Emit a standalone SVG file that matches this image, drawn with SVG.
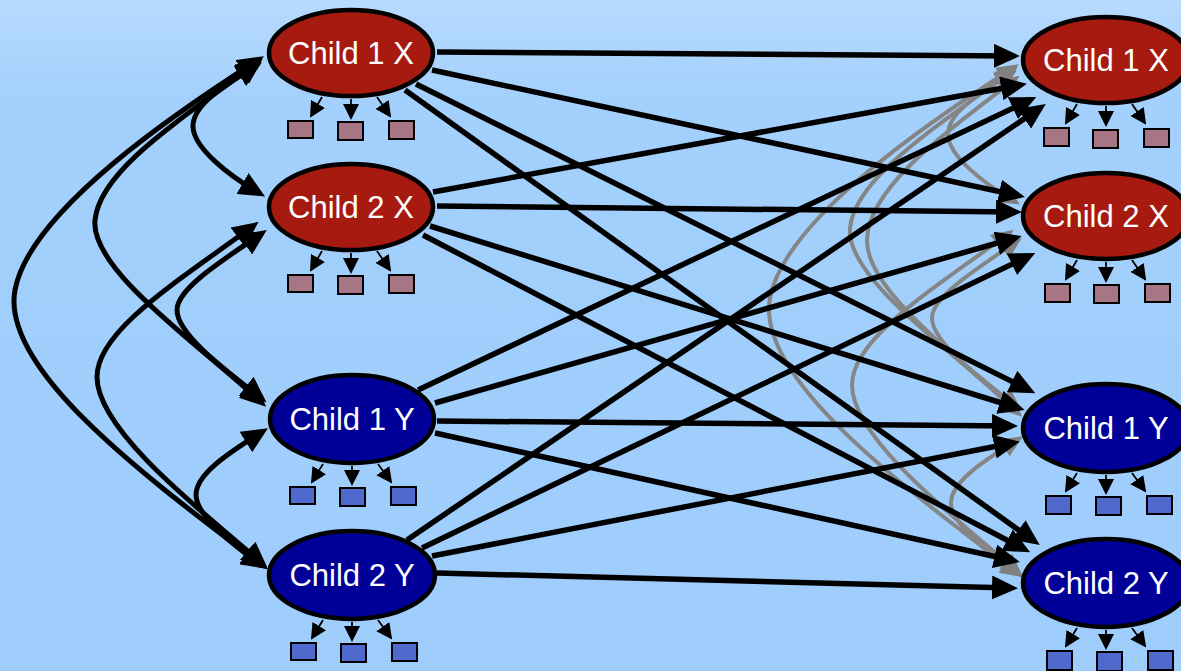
<svg xmlns="http://www.w3.org/2000/svg" width="1181" height="671" viewBox="0 0 1181 671">
<defs>
<linearGradient id="bg" x1="0" y1="0" x2="0" y2="1">
<stop offset="0" stop-color="#b7dafe"/>
<stop offset="0.15" stop-color="#a3d0fc"/>
<stop offset="1" stop-color="#9ecdfc"/>
</linearGradient>
<marker id="ah" markerUnits="userSpaceOnUse" markerWidth="26" markerHeight="24" refX="19" refY="12" orient="auto-start-reverse">
<path d="M0,0 L26,12 L0,24 z" fill="#000"/>
</marker>
<marker id="ag" markerUnits="userSpaceOnUse" markerWidth="22" markerHeight="20" refX="15" refY="10" orient="auto-start-reverse">
<path d="M0,0 L22,10 L0,20 z" fill="#808080"/>
</marker>
<marker id="sm" markerUnits="userSpaceOnUse" markerWidth="16" markerHeight="16" refX="14" refY="8" orient="auto">
<path d="M0,0 L16,8 L0,16 z" fill="#000"/>
</marker>
<style>
.edge{fill:none;stroke:#000;stroke-width:5.5;marker-end:url(#ah)}
.intra{fill:none;stroke:#000;stroke-width:5;marker-start:url(#ah);marker-end:url(#ah)}
.grey{fill:none;stroke:#858585;stroke-width:4;marker-start:url(#ag);marker-end:url(#ag)}
.red{fill:#a61a10;stroke:#000;stroke-width:4.5}
.blue{fill:#000099;stroke:#000;stroke-width:4.5}
.lbl{font-family:"Liberation Sans",Arial,sans-serif;font-size:31px;fill:#fff;text-anchor:middle}
.sub{stroke:#000;stroke-width:1.8;marker-end:url(#sm)}
.sqr{fill:#a67686;stroke:#000;stroke-width:2}
.sqb{fill:#5069cc;stroke:#000;stroke-width:2}
</style>
</defs>
<rect width="1181" height="671" fill="url(#bg)"/>

<g id="connectors">
<g id="grey-curves" transform="translate(755,8)">
<path class="grey" d="M256,66 C225,85 192,105 193,127 C194,148 228,175 259,193"/>
<path class="grey" d="M257,63 C180,120 100,170 95,220 C90,270 200,345 261,402"/>
<path class="grey" d="M259,72 C190,125 113,180 112,232 C111,282 205,350 262,404"/>
<path class="grey" d="M258,60 C180,110 30,210 15,290 C0,370 150,480 262,565"/>
<path class="grey" d="M253,226 C180,280 97,330 97,377 C97,430 200,510 262,563"/>
<path class="grey" d="M261,234 C215,265 177,290 177,310 C177,335 228,372 261,398"/>
<path class="grey" d="M262,432 C225,455 196,475 196,495 C196,515 232,545 262,565"/>
</g>
<g id="left-curves">
<path class="intra" d="M256,66 C225,85 192,105 193,127 C194,148 228,175 259,193"/>
<path class="intra" d="M257,63 C180,120 100,170 95,220 C90,270 200,345 261,402"/>
<path class="intra" d="M258,60 C180,110 30,210 15,290 C0,370 150,480 262,565"/>
<path class="intra" d="M253,226 C180,280 97,330 97,377 C97,430 200,510 262,563"/>
<path class="intra" d="M261,234 C215,265 177,290 177,310 C177,335 228,372 261,398"/>
<path class="intra" d="M262,432 C225,455 196,475 196,495 C196,515 232,545 262,565"/>
</g>
<g id="cross-edges">
<path class="edge" d="M437,52 L1013,56"/>
<path class="edge" d="M433,192 L1020,85"/>
<path class="edge" d="M418,390 L1030,100"/>
<path class="edge" d="M407,540 L1040,108"/>
<path class="edge" d="M432,70 L1018,195.5"/>
<path class="edge" d="M437,206 L1015,212"/>
<path class="edge" d="M435,403 L1015,238"/>
<path class="edge" d="M422,548 L1029,256"/>
<path class="edge" d="M416,84 L1029,390"/>
<path class="edge" d="M430,226 L1018,408"/>
<path class="edge" d="M437,421 L1011,426"/>
<path class="edge" d="M432,556 L1013,443"/>
<path class="edge" d="M405,90 L1034,541"/>
<path class="edge" d="M423,235 L1024,549"/>
<path class="edge" d="M435,433 L1013,560.5"/>
<path class="edge" d="M437,573 L1011,588"/>
</g>
</g>

<g id="left-child1x" transform="translate(351,53)">
<ellipse class="red" rx="82" ry="43"/>
<text class="lbl" y="11">Child 1 X</text>
<line class="sub" x1="-29" y1="44" x2="-40" y2="63"/>
<line class="sub" x1="0" y1="46" x2="0" y2="65"/>
<line class="sub" x1="26" y1="44" x2="39" y2="63"/>
<rect class="sqr" x="-63" y="68" width="25" height="17"/>
<rect class="sqr" x="-13" y="69" width="25" height="18"/>
<rect class="sqr" x="38" y="68" width="25" height="18"/>
</g>
<g id="left-child2x" transform="translate(351,207)">
<ellipse class="red" rx="82" ry="43"/>
<text class="lbl" y="11">Child 2 X</text>
<line class="sub" x1="-29" y1="44" x2="-40" y2="63"/>
<line class="sub" x1="0" y1="46" x2="0" y2="65"/>
<line class="sub" x1="26" y1="44" x2="39" y2="63"/>
<rect class="sqr" x="-63" y="68" width="25" height="17"/>
<rect class="sqr" x="-13" y="69" width="25" height="18"/>
<rect class="sqr" x="38" y="68" width="25" height="18"/>
</g>
<g id="left-child1y" transform="translate(352,419)">
<ellipse class="blue" rx="82" ry="44"/>
<text class="lbl" y="11">Child 1 Y</text>
<line class="sub" x1="-29" y1="45" x2="-40" y2="63"/>
<line class="sub" x1="0" y1="47" x2="0" y2="65"/>
<line class="sub" x1="26" y1="45" x2="39" y2="63"/>
<rect class="sqb" x="-62" y="68" width="25" height="17"/>
<rect class="sqb" x="-12" y="69" width="25" height="18"/>
<rect class="sqb" x="39" y="68" width="25" height="18"/>
</g>
<g id="left-child2y" transform="translate(352,575)">
<ellipse class="blue" rx="83" ry="44"/>
<text class="lbl" y="11">Child 2 Y</text>
<line class="sub" x1="-29" y1="45" x2="-40" y2="63"/>
<line class="sub" x1="0" y1="47" x2="0" y2="65"/>
<line class="sub" x1="26" y1="45" x2="39" y2="63"/>
<rect class="sqb" x="-61" y="68" width="25" height="17"/>
<rect class="sqb" x="-11" y="69" width="25" height="18"/>
<rect class="sqb" x="40" y="68" width="25" height="18"/>
</g>

<g id="right-child1x" transform="translate(1106,60)">
<ellipse class="red" rx="83" ry="43"/>
<text class="lbl" y="11">Child 1 X</text>
<line class="sub" x1="-29" y1="44" x2="-40" y2="63"/>
<line class="sub" x1="0" y1="46" x2="0" y2="65"/>
<line class="sub" x1="26" y1="44" x2="39" y2="63"/>
<rect class="sqr" x="-62" y="68" width="25" height="18"/>
<rect class="sqr" x="-13" y="70" width="25" height="18"/>
<rect class="sqr" x="38" y="69" width="25" height="18"/>
</g>
<g id="right-child2x" transform="translate(1106,216)">
<ellipse class="red" rx="83" ry="43"/>
<text class="lbl" y="11">Child 2 X</text>
<line class="sub" x1="-29" y1="44" x2="-40" y2="63"/>
<line class="sub" x1="0" y1="46" x2="0" y2="65"/>
<line class="sub" x1="26" y1="44" x2="39" y2="63"/>
<rect class="sqr" x="-61" y="68" width="25" height="18"/>
<rect class="sqr" x="-12" y="69" width="25" height="18"/>
<rect class="sqr" x="39" y="68" width="25" height="18"/>
</g>
<g id="right-child1y" transform="translate(1106,428)">
<ellipse class="blue" rx="83" ry="44"/>
<text class="lbl" y="11">Child 1 Y</text>
<line class="sub" x1="-29" y1="45" x2="-40" y2="63"/>
<line class="sub" x1="0" y1="47" x2="0" y2="65"/>
<line class="sub" x1="26" y1="45" x2="39" y2="63"/>
<rect class="sqb" x="-60" y="68" width="25" height="18"/>
<rect class="sqb" x="-10" y="69" width="25" height="18"/>
<rect class="sqb" x="41" y="68" width="25" height="18"/>
</g>
<g id="right-child2y" transform="translate(1106,583)">
<ellipse class="blue" rx="83" ry="44"/>
<text class="lbl" y="11">Child 2 Y</text>
<line class="sub" x1="-29" y1="45" x2="-40" y2="63"/>
<line class="sub" x1="0" y1="47" x2="0" y2="65"/>
<line class="sub" x1="26" y1="45" x2="39" y2="63"/>
<rect class="sqb" x="-59" y="68" width="25" height="19"/>
<rect class="sqb" x="-9" y="69" width="25" height="19"/>
<rect class="sqb" x="42" y="68" width="25" height="19"/>
</g>
</svg>
